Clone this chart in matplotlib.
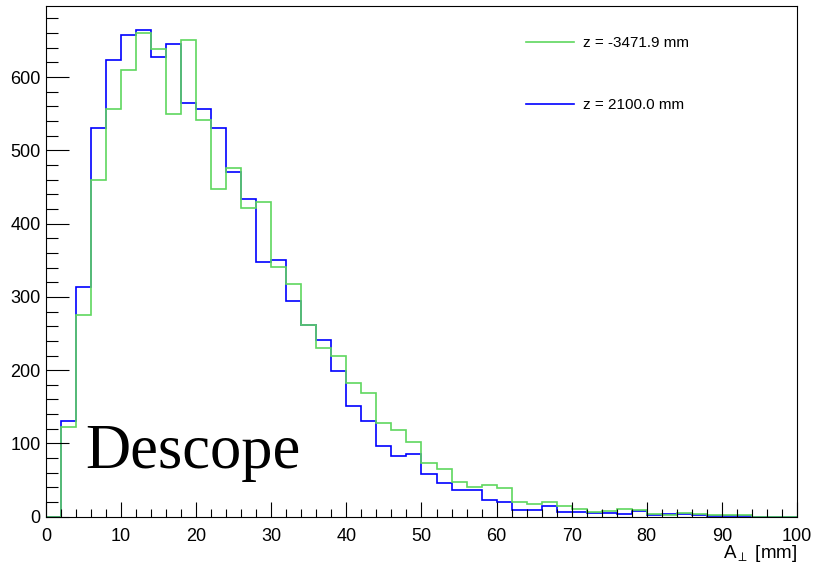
import numpy as np
import matplotlib.pyplot as plt

plt.rcParams['font.family'] = ['Liberation Sans', 'DejaVu Sans']
plt.rcParams['mathtext.fontset'] = 'custom'
plt.rcParams['mathtext.rm'] = 'Liberation Sans'
plt.rcParams['mathtext.it'] = 'Liberation Sans'

# bin edges of A_perp [mm], 2 mm bins
edges = np.arange(0, 102, 2)

# counts per bin, z = 2100.0 mm
counts_blue = [0, 130, 313, 530, 623, 657, 664, 627, 645, 565,
               557, 531, 470, 434, 347, 350, 295, 261, 241, 199,
               151, 131, 96, 83, 85, 58, 46, 36, 37, 23,
               20, 9, 9, 14, 7, 7, 5, 5, 4, 8,
               2, 4, 4, 2, 1, 1, 1, 0, 0, 0]

# counts per bin, z = -3471.9 mm
counts_green = [0, 123, 275, 460, 557, 610, 660, 638, 550, 650,
                542, 447, 476, 421, 430, 341, 318, 261, 230, 219,
                182, 169, 128, 119, 102, 73, 65, 47, 41, 43,
                39, 20, 18, 20, 15, 11, 6, 8, 10, 9,
                4, 2, 5, 4, 2, 2, 2, 0, 0, 0]

label_blue = 'z = 2100.0 mm'
label_green = 'z = -3471.9 mm'

fig = plt.figure(figsize=(8.13, 5.68), dpi=100)
ax = fig.add_axes([0.0566, 0.0903, 0.9237, 0.8991])

h_blue = ax.stairs(counts_blue, edges, baseline=0, color='#0000ff', lw=1.2, label=label_blue)
h_green = ax.stairs(counts_green, edges, baseline=0, color='#5fd75f', lw=1.2, label=label_green)

ax.set_xlim(0, 100)
ax.set_ylim(0, 697)

ax.set_xticks(np.arange(0, 101, 10))
ax.set_xticks(np.arange(0, 101, 2), minor=True)
ax.set_yticks(np.arange(0, 601, 100))
ax.set_yticks(np.arange(0, 681, 20), minor=True)

ax.tick_params(axis='x', which='major', direction='in', length=10.8, width=0.8, labelsize=13, pad=8)
ax.tick_params(axis='x', which='minor', direction='in', length=5.8, width=0.8)
ax.tick_params(axis='y', which='major', direction='in', length=16.5, width=0.8, labelsize=13, pad=4)
ax.tick_params(axis='y', which='minor', direction='in', length=8.6, width=0.8)
for s in ax.spines.values():
    s.set_linewidth(0.8)

ax.set_xlabel(r'A$_{\perp}$ [mm]', loc='right', fontsize=13.5, labelpad=-1)

leg = ax.legend(handles=[h_green, h_blue], loc='upper left', bbox_to_anchor=(0.639, 0.941),
                frameon=False, fontsize=11, borderpad=0, borderaxespad=0,
                handlelength=3.14, handletextpad=0.57, labelspacing=3.16)
for line in leg.get_lines():
    line.set_linewidth(1.2)

ax.text(0.0519, 0.096, 'Descope', transform=ax.transAxes, family='Liberation Serif',
        fontsize=45, va='baseline', ha='left')

fig.savefig('out.png', dpi=100)
